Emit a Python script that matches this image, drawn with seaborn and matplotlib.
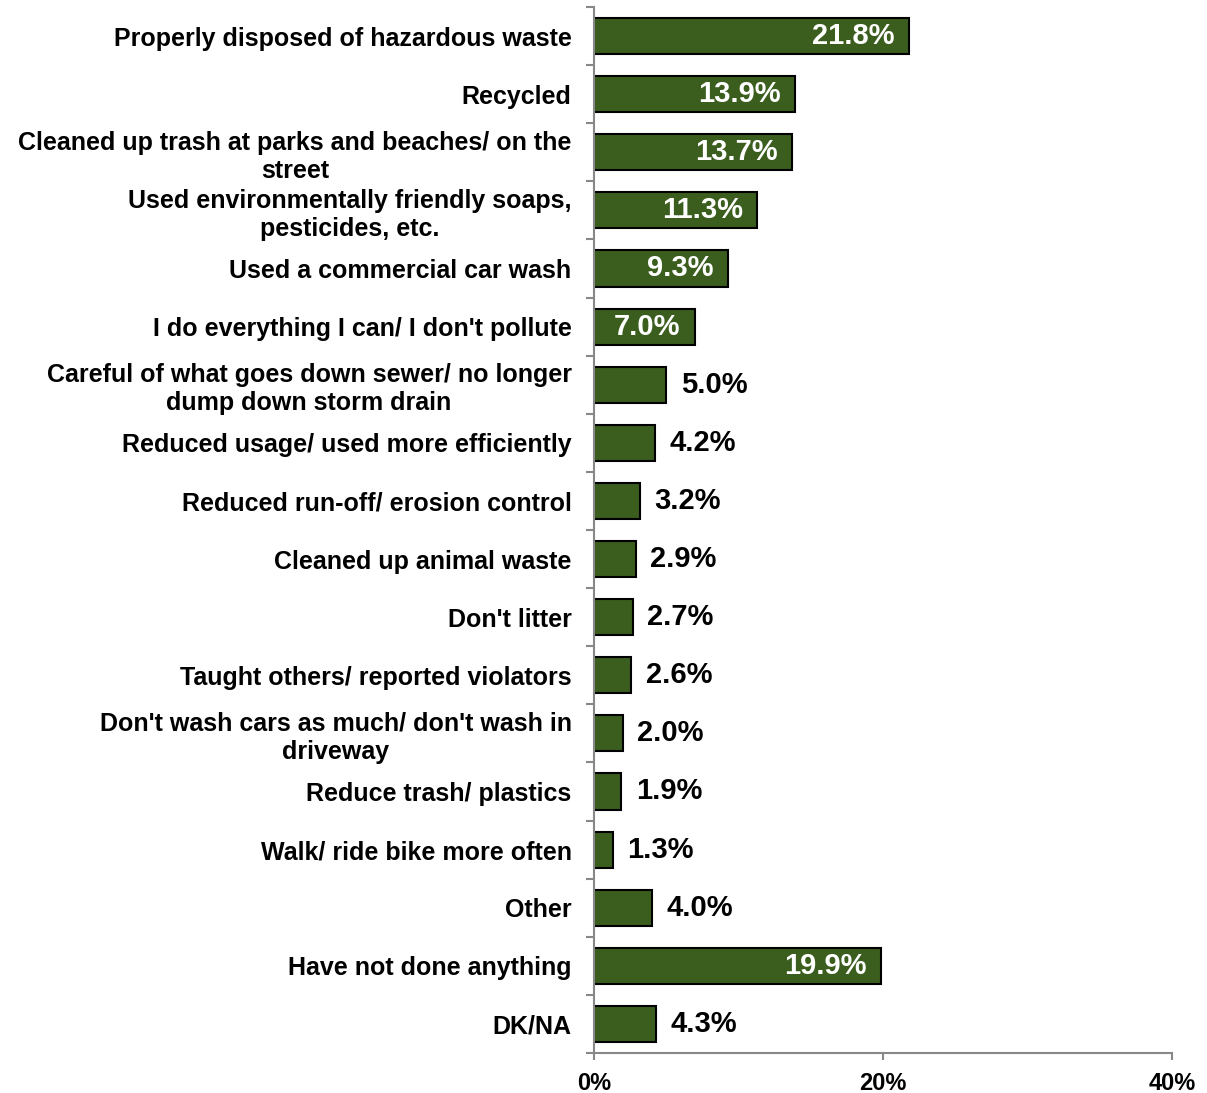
import matplotlib
matplotlib.use("Agg")
import matplotlib.pyplot as plt
import seaborn as sns
import pandas as pd
from matplotlib.ticker import FixedLocator, FuncFormatter

categories = [
    "Properly disposed of hazardous waste",
    "Recycled",
    "Cleaned up trash at parks and beaches/ on the\nstreet",
    "Used environmentally friendly soaps,\npesticides, etc.",
    "Used a commercial car wash",
    "I do everything I can/ I don't pollute",
    "Careful of what goes down sewer/ no longer\ndump down storm drain",
    "Reduced usage/ used more efficiently",
    "Reduced run-off/ erosion control",
    "Cleaned up animal waste",
    "Don't litter",
    "Taught others/ reported violators",
    "Don't wash cars as much/ don't wash in\ndriveway",
    "Reduce trash/ plastics",
    "Walk/ ride bike more often",
    "Other",
    "Have not done anything",
    "DK/NA",
]
values = [21.8, 13.9, 13.7, 11.3, 9.3, 7.0, 5.0, 4.2, 3.2, 2.9, 2.7, 2.6, 2.0, 1.9, 1.3, 4.0, 19.9, 4.3]
xticks = [0, 20, 40]

sns.set_style("white")
plt.rcParams['font.family'] = ['Liberation Sans', 'DejaVu Sans']

df = pd.DataFrame({"cat": categories, "val": values})

fig = plt.figure(figsize=(12.07, 10.93), dpi=100)
ax = fig.add_axes([0.492, 0.0366, 0.479, 0.957])

sns.barplot(data=df, y="cat", x="val", orient="h", color="#3B5E1F",
            edgecolor="black", linewidth=1.5, width=0.62, saturation=1, ax=ax)

ax.set_xlim(0, 40)
ax.set_ylim(len(categories) - 0.5, -0.5)
ax.set_xlabel("")
ax.set_ylabel("")
ax.xaxis.set_major_locator(FixedLocator(xticks))
ax.xaxis.set_major_formatter(FuncFormatter(lambda v, p: f"{v:.0f}%"))

# y ticks at category boundaries
ax.set_yticks(range(len(categories)))
ax.set_yticklabels(categories, fontsize=18, fontweight="bold", linespacing=1.2,
                   color="black")
for lab in ax.get_yticklabels():
    lab.set_multialignment("center")
ax.tick_params(axis="y", which="major", left=True, length=0, pad=16)
ax.set_yticks([i - 0.5 for i in range(len(categories) + 1)], minor=True)
ax.tick_params(axis="y", which="minor", left=True, length=6, width=1.5,
               color="#888888", direction="out")
ax.tick_params(axis="x", bottom=True, length=5, width=1.5, color="#888888",
               direction="out", pad=9, labelsize=17, labelcolor="black")
for lab in ax.get_xticklabels():
    lab.set_fontweight("bold")

for s in ["top", "right"]:
    ax.spines[s].set_visible(False)
for s in ["left", "bottom"]:
    ax.spines[s].set_color("#888888")
    ax.spines[s].set_linewidth(1.5)

for i, v in enumerate(values):
    if v >= 7:
        ax.text(v - 1.0, i, f"{v:.1f}%", ha="right", va="center", color="white",
                fontsize=21, fontweight="bold")
    else:
        ax.text(v + 1.0, i, f"{v:.1f}%", ha="left", va="center", color="black",
                fontsize=21, fontweight="bold")

fig.savefig("out.png", dpi=100)
